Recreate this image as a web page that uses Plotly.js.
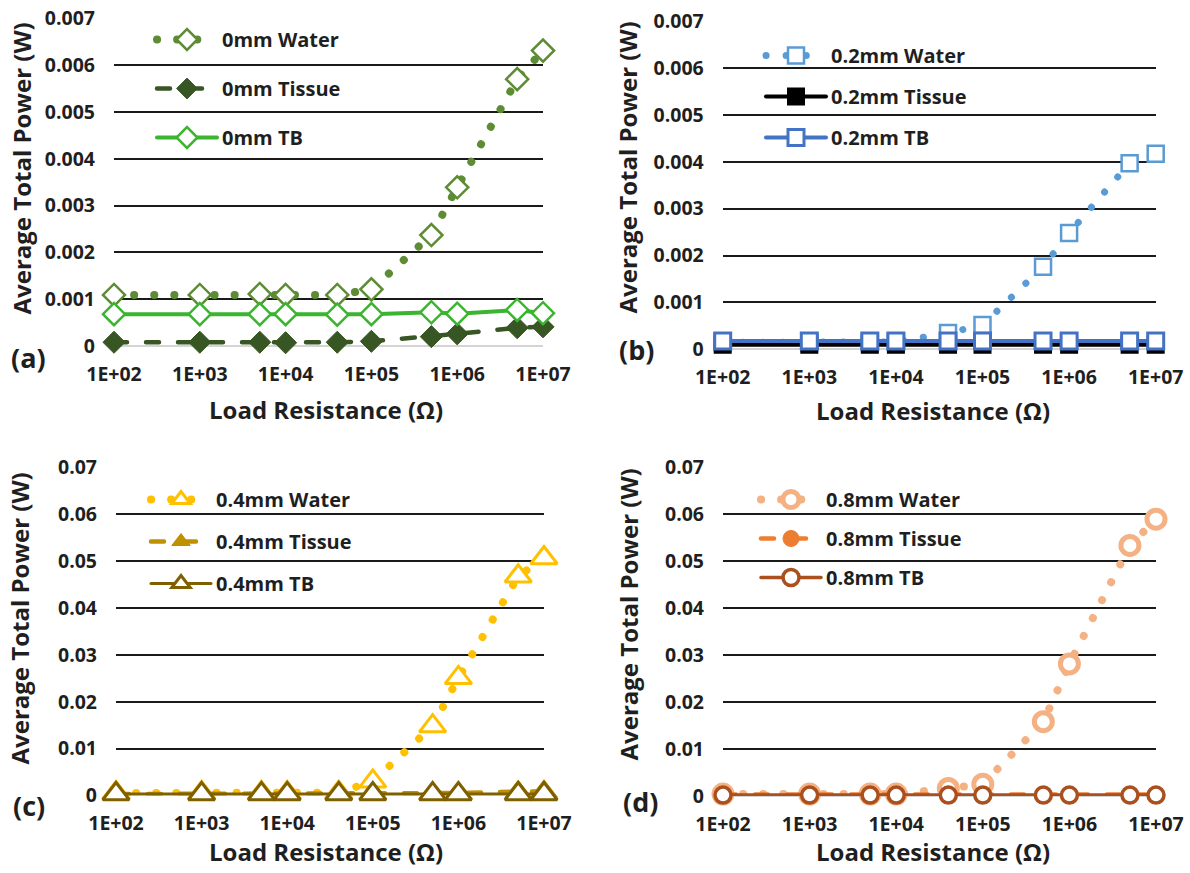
<!DOCTYPE html>
<html>
<head>
<meta charset="utf-8">
<script src="https://cdn.plot.ly/plotly-3.0.1.min.js"></script>
<style>
  html, body { margin: 0; padding: 0; background: #ffffff; }
  #chart { width: 1190px; height: 873px; }
  path.js-line { stroke-linecap: round; }
</style>
</head>
<body>
<div id="chart"></div>
<script>
// ---- data ----
const resistance = [1e2, 1e3, 5e3, 1e4, 4e4, 1e5, 5e5, 1e6, 5e6, 1e7];
const xTickValues = [1e2, 1e3, 1e4, 1e5, 1e6, 1e7];
const xTickLabels = ['1E+02', '1E+03', '1E+04', '1E+05', '1E+06', '1E+07'];
const yTickValuesSmall = [0, 0.001, 0.002, 0.003, 0.004, 0.005, 0.006, 0.007];
const yTickLabelsSmall = ['0', '0.001', '0.002', '0.003', '0.004', '0.005', '0.006', '0.007'];
const yTickValuesLarge = [0, 0.01, 0.02, 0.03, 0.04, 0.05, 0.06, 0.07];
const yTickLabelsLarge = ['0', '0.01', '0.02', '0.03', '0.04', '0.05', '0.06', '0.07'];

const names0mm = ['0mm Water', '0mm Tissue', '0mm TB'];
const water0mm  = [0.00109, 0.00109, 0.00111, 0.00109, 0.00109, 0.00121, 0.00237, 0.00339, 0.00570, 0.00631];
const tissue0mm = [0.00008, 0.00008, 0.00008, 0.00007, 0.00008, 0.00010, 0.00020, 0.00026, 0.00039, 0.00041];
const tb0mm     = [0.00068, 0.00068, 0.00068, 0.00068, 0.00067, 0.00068, 0.00072, 0.00069, 0.00077, 0.00070];

const names02mm = ['0.2mm Water', '0.2mm Tissue', '0.2mm TB'];
const water02mm  = [0.00015, 0.00015, 0.00015, 0.00016, 0.00035, 0.00052, 0.00176, 0.00248, 0.00397, 0.00417];
const tissue02mm = [0.00010, 0.00010, 0.00010, 0.00010, 0.00010, 0.00010, 0.00010, 0.00010, 0.00010, 0.00010];
const tb02mm     = [0.00018, 0.00018, 0.00018, 0.00018, 0.00018, 0.00018, 0.00018, 0.00018, 0.00018, 0.00018];

const names04mm = ['0.4mm Water', '0.4mm Tissue', '0.4mm TB'];
const water04mm  = [0.0005, 0.0005, 0.0005, 0.0005, 0.0006, 0.0030, 0.0148, 0.0251, 0.0468, 0.0507];
const tissue04mm = [0.0003, 0.0003, 0.0003, 0.0003, 0.0003, 0.0003, 0.0004, 0.0005, 0.0008, 0.0009];
const tb04mm     = [0.0003, 0.0003, 0.0003, 0.0003, 0.0003, 0.0003, 0.0003, 0.0003, 0.0003, 0.0003];

const names08mm = ['0.8mm Water', '0.8mm Tissue', '0.8mm TB'];
const water08mm  = [0.0004, 0.0004, 0.0004, 0.0004, 0.0016, 0.0025, 0.0158, 0.0281, 0.0533, 0.0589];
const tissue08mm = [0.0003, 0.0003, 0.0003, 0.0003, 0.0003, 0.0003, 0.0003, 0.0003, 0.0003, 0.0003];
const tb08mm     = [0.0002, 0.0002, 0.0002, 0.0002, 0.0002, 0.0002, 0.0002, 0.0002, 0.0002, 0.0002];

const panelLabels = ['(a)', '(b)', '(c)', '(d)'];
const xTitle = 'Load Resistance (Ω)';
const yTitle = 'Average Total Power (W)';

// ---- styles ----
const FONT = 'Open Sans, Lato, Liberation Sans, sans-serif';
const TXT = '#1f1f1f';
const DOT = '0.1px,20px';
const DASH = '13px,19px';

function trace(name, y, idx, legendId, group, s) {
  return {
    type: 'scatter', mode: 'lines+markers', name: name,
    x: resistance, y: y,
    xaxis: idx === 1 ? 'x' : 'x' + idx,
    yaxis: idx === 1 ? 'y' : 'y' + idx,
    legend: legendId, legendgroup: group,
    cliponaxis: false,
    line: { color: s.lc, width: s.lw, dash: s.dash },
    marker: { symbol: s.sym, size: s.ms, color: s.fill, line: { color: s.mc, width: s.mlw } }
  };
}

const data = [
  trace(names0mm[0], water0mm, 1, 'legend', 'a1', {lc: '#5E8C35', lw: 8, dash: DOT, sym: 'diamond', ms: 17, fill: '#ffffff', mc: '#5E8C35', mlw: 2.5}),
  trace(names0mm[1], tissue0mm, 1, 'legend', 'a2', {lc: '#375623', lw: 4.5, dash: DASH, sym: 'diamond', ms: 17, fill: '#375623', mc: '#375623', mlw: 1}),
  trace(names0mm[2], tb0mm, 1, 'legend', 'a3', {lc: '#3BB52F', lw: 4, dash: 'solid', sym: 'diamond', ms: 17, fill: '#ffffff', mc: '#3BB52F', mlw: 2.5}),

  trace(names02mm[0], water02mm, 2, 'legend2', 'b1', {lc: '#5B9BD5', lw: 7, dash: DOT, sym: 'square', ms: 16, fill: '#ffffff', mc: '#5B9BD5', mlw: 2.5}),
  trace(names02mm[1], tissue02mm, 2, 'legend2', 'b2', {lc: '#000000', lw: 4, dash: 'solid', sym: 'square', ms: 16, fill: '#000000', mc: '#000000', mlw: 2}),
  trace(names02mm[2], tb02mm, 2, 'legend2', 'b3', {lc: '#4472C4', lw: 4, dash: 'solid', sym: 'square', ms: 16, fill: '#ffffff', mc: '#4472C4', mlw: 3}),

  trace(names04mm[0], water04mm, 3, 'legend3', 'c1', {lc: '#FFC000', lw: 8, dash: DOT, sym: 'triangle-up', ms: 23, fill: '#ffffff', mc: '#FFC000', mlw: 3}),
  trace(names04mm[1], tissue04mm, 3, 'legend3', 'c2', {lc: '#BF9000', lw: 4.5, dash: DASH, sym: 'triangle-up', ms: 23, fill: '#BF9000', mc: '#BF9000', mlw: 1}),
  trace(names04mm[2], tb04mm, 3, 'legend3', 'c3', {lc: '#7F6000', lw: 3, dash: 'solid', sym: 'triangle-up', ms: 23, fill: '#ffffff', mc: '#7F6000', mlw: 3}),

  trace(names08mm[0], water08mm, 4, 'legend4', 'd1', {lc: '#F4B183', lw: 8, dash: DOT, sym: 'circle', ms: 18, fill: '#ffffff', mc: '#F4B183', mlw: 5}),
  trace(names08mm[1], tissue08mm, 4, 'legend4', 'd2', {lc: '#ED7D31', lw: 4.5, dash: DASH, sym: 'circle', ms: 16, fill: '#ED7D31', mc: '#ED7D31', mlw: 1}),
  trace(names08mm[2], tb08mm, 4, 'legend4', 'd3', {lc: '#A9501E', lw: 3.5, dash: 'solid', sym: 'circle', ms: 16, fill: '#ffffff', mc: '#A9501E', mlw: 3.5})
];

const W = 1190, H = 873;
function px(v) { return v / W; }
function py(v) { return (H - v) / H; }

const tickFont = { family: FONT, size: 19.5, color: TXT, weight: 700 };

function xAxis(left, right, anchor) {
  return {
    type: 'log', domain: [px(left), px(right)], range: [2, 7], anchor: anchor,
    tickmode: 'array', tickvals: xTickValues, ticktext: xTickLabels,
    showgrid: false, zeroline: false, showline: false, ticks: '',
    tickfont: tickFont, ticklabelstandoff: 14, fixedrange: true
  };
}
function yAxis(zeroPx, topPx, anchor, vals, labels, top) {
  return {
    domain: [py(zeroPx), py(topPx)], range: [0, top], anchor: anchor,
    tickmode: 'array', tickvals: vals, ticktext: labels,
    showgrid: true, gridcolor: '#1a1a1a', gridwidth: 2,
    zeroline: true, zerolinecolor: '#d4d4d4', zerolinewidth: 2,
    showline: false, ticks: '', tickfont: tickFont, ticklabelstandoff: 18, fixedrange: true
  };
}

function legendAt(xLeft, yTop, gap) {
  return {
    x: px(xLeft), y: py(yTop), xanchor: 'left', yanchor: 'top',
    bgcolor: 'rgba(0,0,0,0)', borderwidth: 0,
    font: { family: FONT, size: 20, color: TXT, weight: 700 },
    itemwidth: 60, traceorder: 'grouped', tracegroupgap: gap
  };
}

const annotations = [];
function addText(text, x, y, size, angle) {
  annotations.push({
    xref: 'paper', yref: 'paper', x: px(x), y: py(y), xanchor: 'center', yanchor: 'middle',
    text: text, showarrow: false, textangle: angle || 0,
    font: { family: FONT, size: size, color: TXT, weight: 700 }
  });
}
// y titles
addText(yTitle, 21, 168.5, 24, -90);
addText(yTitle, 627, 167.5, 24, -90);
addText(yTitle, 19, 618.5, 24, -90);
addText(yTitle, 627.5, 615, 24, -90);
// x titles
addText(xTitle, 326, 409, 24);
addText(xTitle, 933, 410, 24);
addText(xTitle, 326, 851, 24);
addText(xTitle, 933, 851, 24);
// panel labels
addText(panelLabels[0], 28, 357, 27);
addText(panelLabels[1], 636.5, 349, 27);
addText(panelLabels[2], 28.5, 805, 27);
addText(panelLabels[3], 640, 801, 27);

const layout = {
  width: W, height: H,
  margin: { l: 0, r: 0, t: 0, b: 0 },
  paper_bgcolor: '#ffffff', plot_bgcolor: 'rgba(0,0,0,0)',
  showlegend: true,
  xaxis: xAxis(114, 543, 'y'),
  yaxis: yAxis(346, 18.3, 'x', yTickValuesSmall, yTickLabelsSmall, 0.007),
  xaxis2: xAxis(722.7, 1155.7, 'y2'),
  yaxis2: yAxis(349.4, 21, 'x2', yTickValuesSmall, yTickLabelsSmall, 0.007),
  xaxis3: xAxis(116, 544, 'y3'),
  yaxis3: yAxis(795.4, 467.6, 'x3', yTickValuesLarge, yTickLabelsLarge, 0.07),
  xaxis4: xAxis(723, 1156, 'y4'),
  yaxis4: yAxis(796, 467, 'x4', yTickValuesLarge, yTickLabelsLarge, 0.07),
  legend: legendAt(152, 20, 20),
  legend2: legendAt(761, 36, 12),
  legend3: legendAt(146, 480, 13),
  legend4: legendAt(756, 480, 10),
  annotations: annotations
};

Plotly.newPlot('chart', data, layout, { displayModeBar: false, staticPlot: true });
</script>
</body>
</html>
